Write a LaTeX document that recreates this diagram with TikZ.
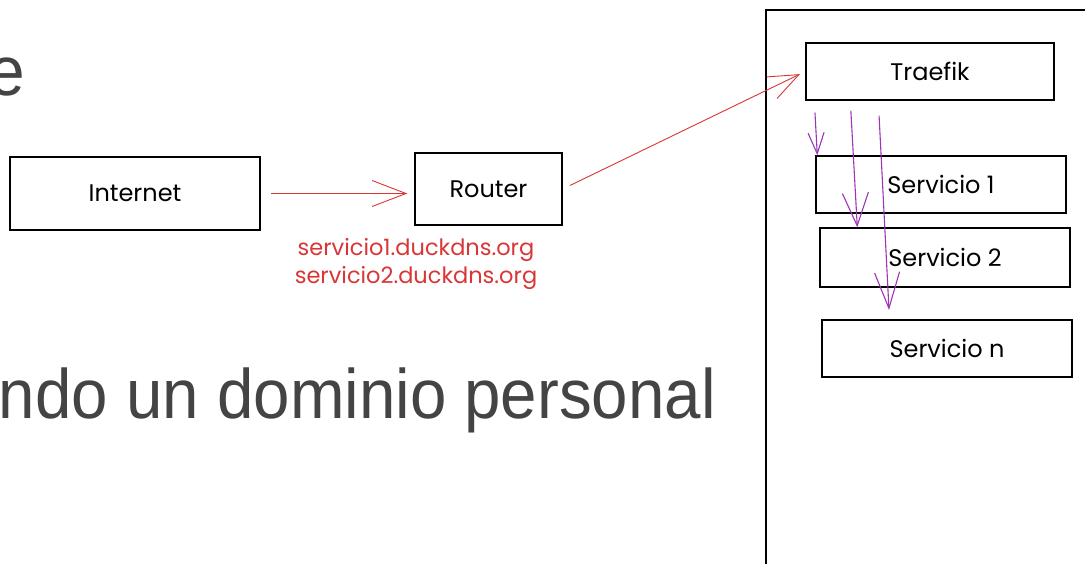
\documentclass[tikz,border=0pt]{standalone}
\usepackage{fontspec}
\setmainfont{Liberation Sans}
\newfontfamily\sketchfont{Poppins}
\usetikzlibrary{arrows.meta,calc}
\definecolor{slidegrey}{HTML}{444444}
\definecolor{skred}{HTML}{DA3636}
\definecolor{skpurple}{HTML}{9C36B5}
\tikzset{
  box/.style={draw=black, line width=1.4pt, rectangle, inner sep=0pt,
    font=\sketchfont\fontsize{24}{28}\selectfont},
  slidetext/.style={inner sep=0pt, text=slidegrey, font=\fontsize{70}{80}\selectfont},
  redarrow/.style={draw=skred, line width=0.9pt},
  purplearrow/.style={draw=skpurple, line width=1.1pt},
}
\begin{document}
\begin{tikzpicture}[x=1pt, y=-1pt]
\useasboundingbox (0,0) rectangle (1085,564);
\clip (0,0) rectangle (1085,564);
\fill[white] (0,0) rectangle (1085,564);

% slide text fragments
\node[slidetext, anchor=base east] (etext) at (25,96) {\scalebox{0.94}[1]{e}};
\node[slidetext, anchor=base east] (dominio) at (716,418) {\scalebox{0.935}[1]{ndo un dominio personal}};

% boxes
\node[box, minimum width=250pt, minimum height=73pt] (internet) at (135,193.5) {Internet};
\node[box, minimum width=147pt, minimum height=72pt] (router) at (488.5,189) {Router};
\draw[line width=1.4pt] (766,564) -- (766,10) -- (1090,10);
\coordinate (host) at (766,10);
\node[box, minimum width=248pt, minimum height=57pt] (traefik) at (930,71.5) {Traefik};
\node[box, minimum width=250pt, minimum height=57pt] (s1) at (941,184.5) {Servicio 1};
\node[box, minimum width=250pt, minimum height=59pt] (s2) at (945,257.5) {Servicio 2};
\node[box, minimum width=250pt, minimum height=57pt] (sn) at (947,348.5) {Servicio n};

% red domain labels
\node[inner sep=0pt, text=skred, align=center,
  font=\sketchfont\fontsize{22.5}{28}\selectfont] (domains) at (416,264)
  {servicio1.duckdns.org\\servicio2.duckdns.org};

% red arrows
\draw[redarrow, -{Straight Barb[length=34pt,width=26pt]}, shorten <=10pt, shorten >=7pt]
  (internet.east) -- (internet.east -| router.west);
\draw[redarrow, -{Straight Barb[length=30pt,width=24pt]}, shorten <=8pt, shorten >=6pt]
  (router.east) -- (traefik.west);

% purple arrows
\coordinate (t1) at ($(traefik.south west)+(9,0)$);
\coordinate (t2) at ($(traefik.south west)+(45,0)$);
\coordinate (t3) at ($(traefik.south west)+(73,0)$);
\coordinate (e1) at ($(s1.north west)+(2,0)$);
\coordinate (e2) at ($(s2.north west)+(38,0)$);
\coordinate (e3) at (889,310);
\draw[purplearrow, -{Straight Barb[length=21pt,width=16pt]}, shorten <=12pt] (t1) -- (e1);
\draw[purplearrow, -{Straight Barb[length=33pt,width=26pt]}, shorten <=10pt] (t2) -- (e2);
\draw[purplearrow, -{Straight Barb[length=36pt,width=25pt]}, shorten <=15pt] (t3) -- (e3);
\end{tikzpicture}
\end{document}
